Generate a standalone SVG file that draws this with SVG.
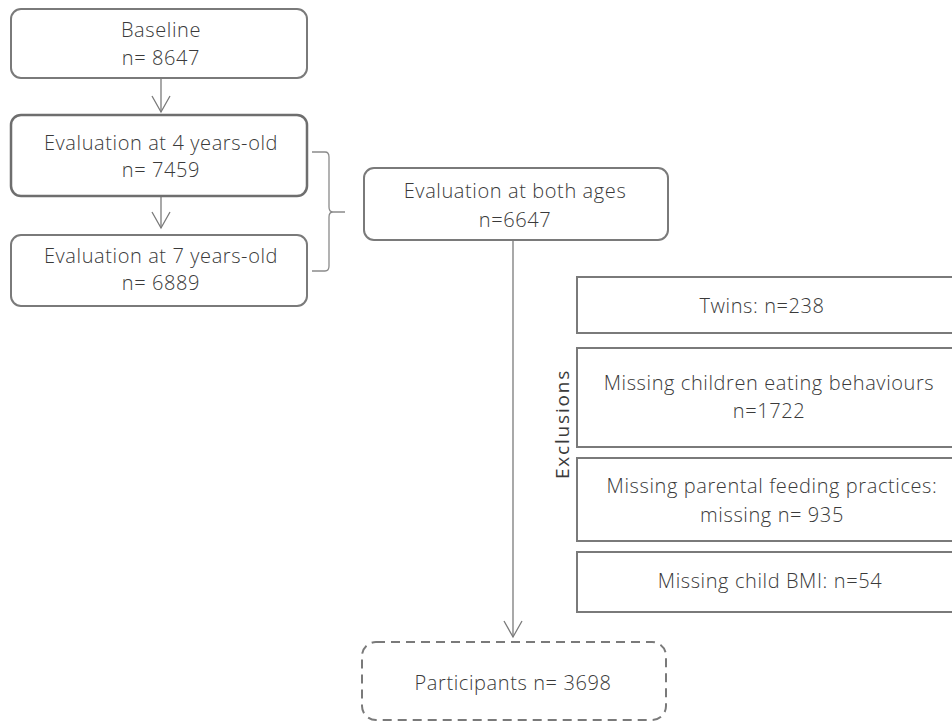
<svg xmlns="http://www.w3.org/2000/svg" width="952" height="724" viewBox="0 0 952 724">
  <style>
    .box { fill: #ffffff; stroke: #7a7a7a; stroke-width: 2; }
    .bold { stroke-width: 2.5; stroke: #6e6e6e; }
    .dash { fill: #ffffff; stroke: #7a7a7a; stroke-width: 2; stroke-dasharray: 9 6; }
    .line { fill: none; stroke: #7a7a7a; stroke-width: 1.3; }
    .brace { fill: none; stroke: #8a8a8a; stroke-width: 1.3; }
    text { font-family: "Open Sans", "Noto Sans", "DejaVu Sans", sans-serif; font-size: 20px; fill: #3a3a3a; text-anchor: middle; font-weight: 300; letter-spacing: 0.6px; }
  </style>
  <rect width="952" height="724" fill="#ffffff"/>

  <g id="connectors">
    <line class="line" x1="161" y1="78" x2="161" y2="112"/>
    <line class="line" x1="161" y1="196" x2="161" y2="228"/>
    <line class="line" x1="513" y1="240" x2="513" y2="637"/>
    <!-- open chevron heads -->
    <path class="line" d="M152,96 L161,112 L170,96"/>
    <path class="line" d="M152,212 L161,228 L170,212"/>
    <path class="line" d="M504,621 L513,637 L522,621"/>
    <!-- brace joining the two evaluations -->
    <path class="brace" d="M312,152 L325,152 Q329,152 329,157 L329,207 Q329,212 333,212 L345,212 M333,212 Q329,212 329,217 L329,266 Q329,271 325,271 L312,271"/>
  </g>

  <g id="baseline">
    <rect class="box" x="11" y="9" width="296" height="69" rx="10"/>
    <text x="161" y="37">Baseline</text>
    <text x="161" y="65">n= 8647</text>
  </g>

  <g id="eval4">
    <rect class="box bold" x="11" y="115" width="296" height="81" rx="10"/>
    <text x="161" y="150">Evaluation at 4 years-old</text>
    <text x="161" y="177">n= 7459</text>
  </g>

  <g id="eval7">
    <rect class="box" x="11" y="235" width="296" height="71" rx="10"/>
    <text x="161" y="263">Evaluation at 7 years-old</text>
    <text x="161" y="290">n= 6889</text>
  </g>

  <g id="evalBoth">
    <rect class="box" x="364" y="168" width="304" height="72" rx="10"/>
    <text x="515" y="198">Evaluation at both ages</text>
    <text x="515" y="227">n=6647</text>
  </g>

  <g id="exclusionsLabel">
    <text x="0" y="0" transform="translate(569,424) rotate(-90)" style="font-size:19px; font-weight:400; letter-spacing:1.8px">Exclusions</text>
  </g>

  <g id="twins">
    <rect class="box" x="577" y="277" width="390" height="56"/>
    <text x="762" y="313">Twins: n=238</text>
  </g>

  <g id="eating">
    <rect class="box" x="577" y="348" width="390" height="99"/>
    <text x="769" y="390">Missing children eating behaviours</text>
    <text x="769" y="418">n=1722</text>
  </g>

  <g id="feeding">
    <rect class="box" x="577" y="458" width="390" height="83"/>
    <text x="772" y="493">Missing parental feeding practices:</text>
    <text x="772" y="522">missing n= 935</text>
  </g>

  <g id="bmi">
    <rect class="box" x="577" y="552" width="390" height="60"/>
    <text x="770" y="588">Missing child BMI: n=54</text>
  </g>

  <g id="participants">
    <rect class="dash" x="362" y="642" width="304" height="78" rx="14"/>
    <text x="513" y="690">Participants n= 3698</text>
  </g>
</svg>
